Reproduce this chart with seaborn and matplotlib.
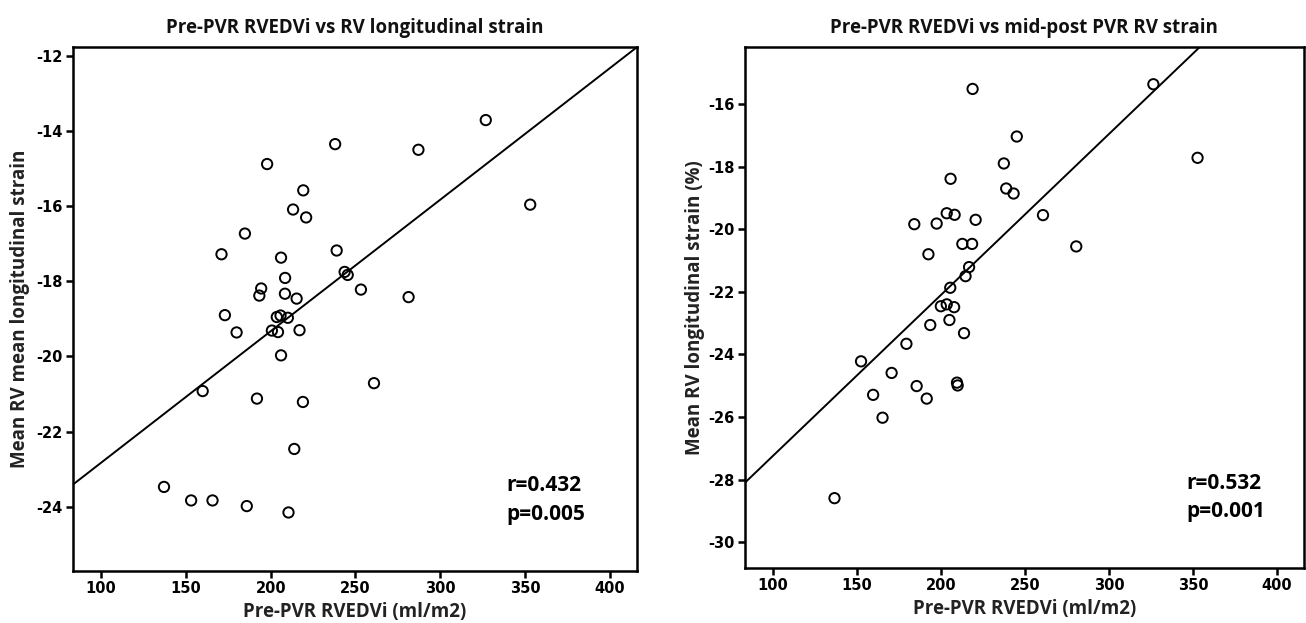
import numpy as np
import pandas as pd
import matplotlib
matplotlib.use('Agg')
import matplotlib.pyplot as plt
import seaborn as sns


# pre-PVR RVEDVi (ml/m2) vs mean RV longitudinal strain
rvedvi_left = [326.8, 238.0, 287.1, 197.9, 219.2, 353.0, 213.2, 220.9, 184.8, 171.0,
               206.1, 238.9, 208.5, 243.6, 245.4, 194.4, 193.3, 208.4, 215.3, 253.2,
               281.3, 173.0, 179.9, 203.6, 205.8, 210.1, 200.7, 204.3, 217.0, 206.1,
               260.9, 159.9, 191.9, 219.0, 213.9, 137.1, 153.1, 165.7, 185.9, 210.5]
strain_left = [-13.71, -14.35, -14.50, -14.88, -15.58, -15.96, -16.09, -16.30, -16.73, -17.28,
               -17.37, -17.18, -17.91, -17.75, -17.83, -18.19, -18.38, -18.33, -18.46, -18.22,
               -18.42, -18.90, -19.36, -18.95, -18.91, -18.97, -19.31, -19.35, -19.30, -19.97,
               -20.71, -20.92, -21.12, -21.21, -22.46, -23.47, -23.83, -23.83, -23.98, -24.15]

# pre-PVR RVEDVi vs mid-post PVR RV strain
rvedvi_right = [218.8, 326.4, 245.1, 352.7, 237.4, 205.7, 238.8, 243.2, 203.4, 208.1,
                260.7, 184.1, 197.4, 220.6, 212.7, 218.5, 280.5, 192.5, 216.7, 214.6,
                205.5, 199.9, 203.4, 207.8, 205.0, 193.6, 213.7, 179.4, 152.4, 170.6,
                185.5, 209.5, 209.9, 159.6, 191.5, 165.2, 136.6]
strain_right = [-15.52, -15.37, -17.04, -17.72, -17.90, -18.39, -18.70, -18.86, -19.49, -19.54,
                -19.55, -19.84, -19.82, -19.70, -20.47, -20.47, -20.55, -20.80, -21.21, -21.50,
                -21.87, -22.46, -22.40, -22.49, -22.90, -23.06, -23.32, -23.66, -24.22, -24.59,
                -25.01, -24.90, -24.99, -25.29, -25.41, -26.02, -28.59]

titles = ['Pre-PVR RVEDVi vs RV longitudinal strain',
          'Pre-PVR RVEDVi vs mid-post PVR RV strain']
ylabels = ['Mean RV mean longitudinal strain', 'Mean RV longitudinal strain (%)']
xlabel = 'Pre-PVR RVEDVi (ml/m2)'
stats = [('r=0.432', 'p=0.005'), ('r=0.532', 'p=0.001')]
xticks = [100, 150, 200, 250, 300, 350, 400]
yticks = [[-12, -14, -16, -18, -20, -22, -24],
          [-16, -18, -20, -22, -24, -26, -28, -30]]
ylims = [(-25.70, -11.76), (-30.81, -14.17)]
xlim = (83.3, 416.0)

sns.set_style('ticks')
plt.rcParams['font.family'] = ['Open Sans', 'DejaVu Sans']
plt.rcParams['axes.unicode_minus'] = False

fig = plt.figure(figsize=(13.06, 6.23), dpi=100)
axes = [fig.add_axes([0.0557, 0.0839, 0.4321, 0.841]),
        fig.add_axes([0.5704, 0.0888, 0.428, 0.8363])]

data = [pd.DataFrame({'x': rvedvi_left, 'y': strain_left}),
        pd.DataFrame({'x': rvedvi_right, 'y': strain_right})]

tick_font = ['Liberation Sans Narrow', 'DejaVu Sans Condensed', 'DejaVu Sans']
stat_x = [0.769, 0.789]

for i, ax in enumerate(axes):
    ax.set_xlim(*xlim)
    ax.set_ylim(*ylims[i])
    sns.regplot(data=data[i], x='x', y='y', ax=ax, ci=None, truncate=False,
                scatter_kws={'s': 55, 'facecolors': 'none', 'edgecolors': 'black',
                             'linewidths': 1.4, 'alpha': 1},
                line_kws={'color': 'black', 'lw': 1.4})
    ax.set_xlim(*xlim)
    ax.set_ylim(*ylims[i])
    ax.set_xticks(xticks)
    ax.set_yticks(yticks[i])
    for sp in ax.spines.values():
        sp.set_visible(True)
        sp.set_linewidth(1.8)
        sp.set_color('black')
    ax.tick_params(direction='out', length=5, width=1.8, colors='black',
                   labelsize=10.5, pad=2.5)
    for lab in ax.get_xticklabels() + ax.get_yticklabels():
        lab.set_family(tick_font)
        lab.set_fontweight('bold')
    ax.set_title(titles[i], fontsize=13.5, fontweight='bold', pad=10, color='#111111')
    ax.set_xlabel(xlabel, fontsize=13.5, fontweight='bold', labelpad=4, color='#222222')
    ax.set_ylabel(ylabels[i], fontsize=13.5, fontweight='bold',
                  labelpad=4 if i == 0 else 2, color='#222222')
    for j, yy in enumerate([0.162, 0.108]):
        ax.text(stat_x[i], yy, stats[i][j], transform=ax.transAxes,
                fontsize=15, fontweight='bold', va='center', ha='left',
                color='black')

fig.savefig('out.png', dpi=100)
